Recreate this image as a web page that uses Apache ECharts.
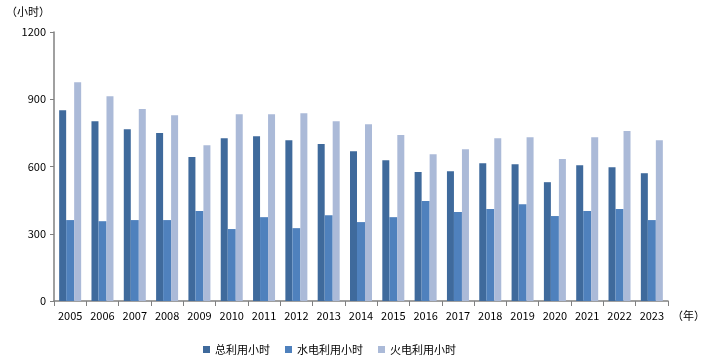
<!DOCTYPE html>
<html><head><meta charset="utf-8">
<script src="https://cdn.jsdelivr.net/npm/echarts@6/dist/echarts.min.js"></script>
<style>html,body{margin:0;padding:0;background:#fff}#c{width:712px;height:360px}</style>
</head><body><div id="c"></div>
<script>
const years = ['2005','2006','2007','2008','2009','2010','2011','2012','2013','2014','2015','2016','2017','2018','2019','2020','2021','2022','2023'];
const totalHours = [851,802,766,749,642,726,735,717,700,668,628,575,579,615,610,530,606,597,570];
const hydroHours = [361,356,361,361,401,321,374,325,383,352,374,446,397,410,432,379,401,410,361];
const thermalHours = [976,913,856,829,695,833,833,838,802,789,740,655,677,726,731,633,731,758,717];
const seriesNames = ['总利用小时','水电利用小时','火电利用小时'];
const yTicks = [0,300,600,900,1200];

const font = '"Noto Sans CJK SC", "Noto Sans", sans-serif';
const chart = echarts.init(document.getElementById('c'));
const colors = ['#3f6a9c','#4f81bd','#abbad8'];
chart.setOption({
  animation: false,
  textStyle: {fontFamily: font},
  color: colors,
  grid: {left: 54, right: 44, top: 32, bottom: 59},
  legend: {
    bottom: 0, left: 198,
    itemWidth: 7, itemHeight: 7, itemGap: 15,
    icon: 'rect',
    textStyle: {fontSize: 11, color: '#000', fontFamily: font},
    data: seriesNames
  },
  graphic: [
    {type: 'text', left: 6, top: 6, style: {text: '（小时）', fill: '#000', font: '11px ' + font}},
    {type: 'text', left: 672, top: 310, style: {text: '（年）', fill: '#000', font: '11px ' + font}}
  ],
  xAxis: {
    type: 'category', data: years,
    axisLine: {lineStyle: {color: '#808080', width: 1.5}},
    axisTick: {show: true, length: 5, lineStyle: {color: '#808080'}},
    axisLabel: {color: '#000', fontSize: 11, margin: 9, interval: 0}
  },
  yAxis: {
    type: 'value', min: yTicks[0], max: yTicks[yTicks.length-1], interval: 300,
    splitLine: {show: false},
    axisLine: {show: true, lineStyle: {color: '#808080', width: 1.5}},
    axisTick: {show: true, length: 4, lineStyle: {color: '#808080'}},
    axisLabel: {color: '#000', fontSize: 11, margin: 8, formatter: v => String(v)}
  },
  series: [
    {name: seriesNames[0], type: 'bar', data: totalHours, barWidth: 7, barGap: '0%'},
    {name: seriesNames[1], type: 'bar', data: hydroHours, barWidth: 8, barGap: '0%'},
    {name: seriesNames[2], type: 'bar', data: thermalHours, barWidth: 7, barGap: '0%'}
  ]
});
</script></body></html>
